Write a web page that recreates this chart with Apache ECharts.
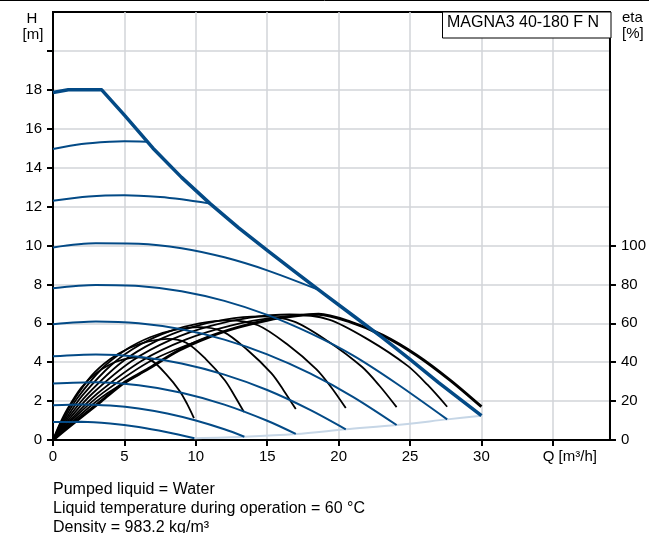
<!DOCTYPE html>
<html>
<head>
<meta charset="utf-8">
<script src="https://cdn.jsdelivr.net/npm/echarts@6/dist/echarts.min.js"></script>
<style>
html,body{margin:0;padding:0;background:#fff;}
#chart{width:649px;height:533px;}
</style>
</head>
<body>
<div id="chart"></div>
<script>
// ---------- data ----------
const xTicks = [0, 5, 10, 15, 20, 25, 30, 35];
const hTicks = [0, 2, 4, 6, 8, 10, 12, 14, 16, 18, 20];
const hLabels = [0, 2, 4, 6, 8, 10, 12, 14, 16, 18];
const etaTicks = [0, 20, 40, 60, 80, 100];

// Q-H curves [Q m3/h, H m]
const qhMax = [[0,17.86],[1.07,18.0],[3.41,18.0],[5,16.7],[7,15.0],[9,13.5],[11,12.15],[13,10.9],[15,9.75],[17,8.62],[19,7.5],[21,6.4],[23,5.3],[25,4.15],[27,2.95],[28.5,2.1],[30,1.25]];
const qh1 = [[0,0.92],[2,0.935],[4,0.85],[6,0.67],[8,0.40],[9.9,0.09]];
const qh2 = [[0,1.79],[2,1.83],[4,1.77],[6,1.62],[8,1.36],[10,1.0],[12,0.55],[13.4,0.17]];
const qh3 = [[0,2.91],[3,2.97],[6,2.81],[9,2.43],[12,1.82],[15,0.99],[17,0.31]];
const qh4 = [[0,4.3],[3,4.4],[6,4.28],[9,3.93],[12,3.36],[15,2.57],[18,1.55],[20.5,0.55]];
const qh5 = [[0,5.95],[3,6.09],[6,6.0],[9,5.69],[12,5.16],[15,4.4],[18,3.42],[21,2.22],[24.06,0.77]];
const qh6 = [[0,7.8],[3,7.97],[6,7.92],[9,7.65],[12,7.15],[15,6.43],[18,5.49],[21,4.35],[24,2.93],[27.6,1.06]];
const qh7 = [[0,9.9],[3,10.11],[6,10.09],[9,9.86],[12,9.39],[15,8.72],[18.6,7.72]];
const qh8 = [[0,12.3],[2.5,12.52],[5,12.58],[7.5,12.49],[9,12.37],[11,12.15]];
const qh9 = [[0,14.96],[2,15.21],[4,15.33],[5,15.35],[6.56,15.33]];
const qhMin = [[9.9,0.09],[13.4,0.17],[17,0.31],[20.5,0.55],[24.06,0.77],[27.6,1.06],[30,1.25]];

// efficiency curves [Q m3/h, eta %]
const eta1 = [[0,0],[0.49,8.5],[0.99,15.7],[1.97,26.8],[2.96,34.0],[3.95,38.7],[4.94,41.4],[5.92,42.5],[6.91,40.8],[7.9,34.0],[8.88,25.1],[9.38,18.7],[9.87,11.3]];
const eta2 = [[0,0],[0.67,10.4],[1.34,19.2],[2.67,32.8],[4.01,41.6],[5.35,47.3],[6.69,50.7],[8.02,52.0],[9.36,49.9],[10.7,41.6],[12.03,30.7],[12.7,22.9],[13.37,14.4]];
const eta3 = [[0,0],[0.85,11.6],[1.7,21.5],[3.4,36.5],[5.1,46.4],[6.8,52.8],[8.5,56.6],[10.2,58.0],[11.9,55.7],[13.6,46.4],[15.3,34.2],[16.15,25.5],[17.0,15.9]];
const eta4 = [[0,0],[1.03,12.3],[2.05,22.8],[4.1,38.7],[6.15,49.2],[8.2,56.0],[10.25,60.0],[12.3,61.5],[14.35,59.0],[16.4,49.2],[18.45,36.3],[19.48,27.1],[20.5,16.4]];
const eta5 = [[0,0],[1.2,12.7],[2.41,23.5],[4.81,40.0],[7.22,50.8],[9.62,57.8],[12.03,61.9],[14.44,63.5],[16.84,61.0],[19.25,50.8],[21.65,37.5],[22.86,27.9],[24.06,16.9]];
const eta6 = [[0,0],[1.38,12.9],[2.76,23.9],[5.52,40.6],[8.28,51.6],[11.04,58.7],[13.8,62.9],[16.56,64.5],[19.32,61.9],[22.08,51.6],[24.84,38.1],[26.22,28.4],[27.6,17.1]];
const eta7 = [[0,0],[1.56,12.9],[3.11,23.9],[6.22,40.7],[9.33,51.7],[12.44,58.8],[15.55,63.0],[18.6,64.6]];
const eta8 = [[0,0],[1.73,13.0],[3.47,24.1],[6.93,41.0],[11.0,53.2]];
const eta9 = [[0,0],[1.92,13.0],[3.83,24.1],[6.56,36.1]];
const etaMax = [[0,0],[1.07,6.5],[3.41,20.2],[5,29.5],[6.56,36.1],[8.8,46],[11,53.2],[13,58],[15,61.6],[17,63.8],[18.6,64.6],[20.8,60.7],[23.1,53.8],[25.46,43.6],[27.8,30.8],[30,17.1]];

const pumpName = 'MAGNA3 40-180 F N';
const notes = ['Pumped liquid = Water', 'Liquid temperature during operation = 60 °C', 'Density = 983.2 kg/m³'];

// ---------- chart ----------
const BLUE = '#034a86';
const FONT = '"Liberation Sans", Arial, sans-serif';
const GRID = '#d2d5d8';

const series = [];
series.push({type:'line', data:qhMin, smooth:0.3, showSymbol:false, lineStyle:{color:'#c6d6e6', width:2}, z:2});
[eta1,eta2,eta3,eta4,eta5,eta6,eta7,eta8,eta9].forEach(d => series.push({
  type:'line', yAxisIndex:1, data:d, smooth:0.3, showSymbol:false,
  lineStyle:{color:'#000', width:1.8}, z:3
}));
series.push({type:'line', yAxisIndex:1, data:etaMax, smooth:0.3, showSymbol:false, lineStyle:{color:'#000', width:3}, z:3});
[qh1,qh2,qh3,qh4,qh5,qh6,qh7,qh8,qh9].forEach(d => series.push({
  type:'line', data:d, smooth:0.3, showSymbol:false, lineStyle:{color:BLUE, width:2}, z:4
}));
series.push({type:'line', data:qhMax, smooth:false, showSymbol:false, lineStyle:{color:BLUE, width:3.5, join:'round'}, z:5});

const chart = echarts.init(document.getElementById('chart'), null, {renderer:'canvas'});
const gText = (x, y, t, align, size) => ({type:'text', x, y, style:{text:t, fill:'#000', font:size+'px '+FONT, align:align, verticalAlign:'middle'}, z:100});

chart.setOption({
  animation:false,
  backgroundColor:'#fff',
  grid:{left:53, right:38, top:12, bottom:93, show:true, borderColor:'#000', borderWidth:2, backgroundColor:'transparent'},
  xAxis:{
    type:'value', min:0, max:39, interval:5,
    axisLine:{show:true, lineStyle:{color:'#000', width:2}},
    axisTick:{show:true, customValues:xTicks, length:6, lineStyle:{color:'#000', width:2}},
    axisLabel:{show:true, customValues:xTicks, margin:9, color:'#000', fontSize:15, fontFamily:FONT,
      formatter: v => v === 35 ? '{q|Q [m³/h]}' : String(v),
      rich:{q:{fontSize:15, fontFamily:FONT, color:'#000', padding:[0,0,0,34]}}},
    splitLine:{show:true, lineStyle:{color:GRID, width:1.5}}
  },
  yAxis:[
    {type:'value', position:'left', min:0, max:22, interval:2,
      axisLine:{show:true, lineStyle:{color:'#000', width:2}},
      axisTick:{show:true, customValues:hTicks, length:6, lineStyle:{color:'#000', width:2}},
      axisLabel:{show:true, customValues:hLabels, margin:11, color:'#000', fontSize:15, fontFamily:FONT},
      splitLine:{show:true, lineStyle:{color:GRID, width:1.5}}},
    {type:'value', position:'right', min:0, max:220, interval:20,
      axisLine:{show:true, lineStyle:{color:'#000', width:2}},
      axisTick:{show:true, customValues:etaTicks, length:6, lineStyle:{color:'#000', width:2}},
      axisLabel:{show:true, customValues:etaTicks, margin:11, color:'#000', fontSize:15, fontFamily:FONT},
      splitLine:{show:false}}
  ],
  series,
  graphic:[
    {type:'line', shape:{x1:0, y1:0.5, x2:649, y2:0.5}, style:{stroke:'#000', lineWidth:1}, z:100},
    gText(32, 18.5, 'H', 'center', 15),
    gText(33, 34.5, '[m]', 'center', 15),
    gText(622, 18, 'eta', 'left', 15),
    gText(622, 33.5, '[%]', 'left', 15),
    {type:'rect', shape:{x:442.5, y:12, width:168.5, height:26}, style:{fill:'#fff', stroke:'#000', lineWidth:1}, z:99},
    gText(447, 22.5, pumpName, 'left', 16),
    gText(53, 490, notes[0], 'left', 16),
    gText(53, 508.5, notes[1], 'left', 16),
    gText(53, 527.5, notes[2], 'left', 16)
  ]
});
</script>
</body>
</html>
